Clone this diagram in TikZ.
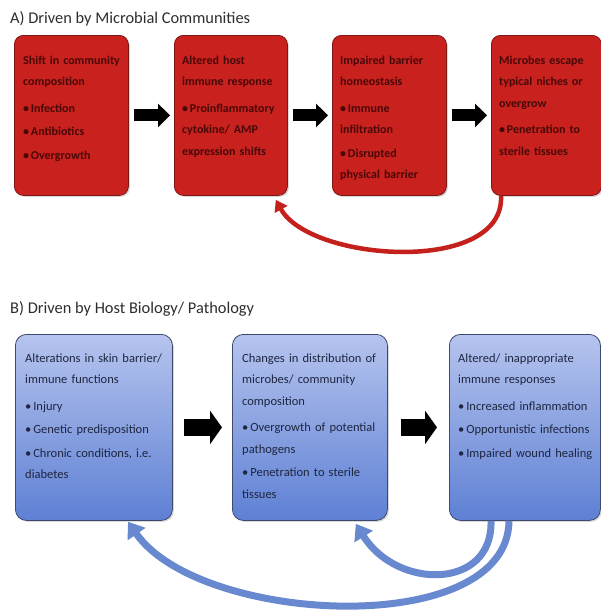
\documentclass[tikz,border=0pt]{standalone}
\usepackage{fontspec}
\setmainfont{Carlito}
\usetikzlibrary{positioning,calc,shadows,arrows.meta}

\definecolor{boxred}{RGB}{201,33,30}
\definecolor{edgered}{RGB}{128,22,20}
\definecolor{txtred}{RGB}{72,8,8}
\definecolor{bluetop}{RGB}{182,196,238}
\definecolor{bluebot}{RGB}{94,128,212}
\definecolor{edgeblue}{RGB}{62,74,108}
\definecolor{txtblue}{RGB}{30,38,64}
\definecolor{loopred}{RGB}{196,32,28}
\definecolor{loopblue}{RGB}{104,136,208}
\definecolor{titlegray}{RGB}{45,45,45}

% heading line(s) and bullets inside the boxes
\newcommand{\boxhead}[1]{#1\par\vspace{3pt}}
\newcommand{\bitem}[1]{\par\vspace{2pt}\hangindent=0.65em\hangafter=1\noindent\makebox[0.65em][l]{\textbullet}#1}

\tikzset{
  redbox/.style={draw=edgered, line width=0.8pt, fill=boxred, rounded corners=9pt,
    drop shadow={opacity=0.3, shadow xshift=1.5pt, shadow yshift=-1.5pt},
    minimum width=114pt, minimum height=160pt, anchor=north west, inner sep=0pt},
  bluebox/.style={draw=edgeblue, line width=0.8pt, top color=bluetop, bottom color=bluebot,
    rounded corners=11pt, drop shadow={opacity=0.3, shadow xshift=1.5pt, shadow yshift=-1.5pt},
    minimum height=186pt, anchor=north west, inner sep=0pt},
  redtext/.style={anchor=base west, inner sep=0pt, text width=110pt, align=left,
    font=\bfseries\fontsize{12}{21.5}\selectfont, text=txtred},
  bluetext/.style={anchor=base west, inner sep=0pt, text width=150pt, align=left,
    font=\fontsize{12.5}{21.5}\selectfont, text=txtblue},
  title/.style={anchor=base west, inner sep=0pt, font=\fontsize{16.4}{19}\selectfont, text=titlegray},
  redarr/.style={black, line width=12pt, -{Triangle[length=12pt,width=23pt]}},
  bluearr/.style={black, line width=17pt, -{Triangle[length=12pt,width=33pt]}},
  redloop/.style={loopred, line width=4.5pt, -{Triangle[length=11pt,width=14pt]}},
  blueloop/.style={loopblue, line width=7pt, -{Triangle[length=15pt,width=21pt]}},
}

\begin{document}
\begin{tikzpicture}[x=1pt,y=1pt,yscale=-1,xscale=1]
\useasboundingbox (0,0) rectangle (601,611);

% Title A
\node[title] (ta) at (10,23) {A) Driven by Microbial Communities};

%Shape: red boxes
\node[redbox, minimum width=114pt] (r1) at (14,35) {};
\node[redbox, minimum width=113pt] (r2) at (174,35) {};
\node[redbox, minimum width=114pt] (r3) at (332,35) {};
\node[redbox, minimum width=110pt] (r4) at (491,35) {};

% Text Node
\node[redtext] (r1t) at ($(r1.north west)+(9,29)$) {\boxhead{Shift in community\\composition}\bitem{Infection}\bitem{Antibiotics}\bitem{Overgrowth}};
\node[redtext] (r2t) at ($(r2.north west)+(8,29)$) {\boxhead{Altered host\\immune response}\bitem{Proinflammatory\\cytokine/ AMP\\expression shifts}};
\node[redtext] (r3t) at ($(r3.north west)+(8,29)$) {\boxhead{Impaired barrier\\homeostasis}\bitem{Immune\\infiltration}\bitem{Disrupted\\physical barrier}};
\node[redtext] (r4t) at ($(r4.north west)+(8,29)$) {\boxhead{Microbes escape\\typical niches or\\overgrow}\bitem{Penetration to\\sterile tissues}};

%Block arrows A
\draw[redarr, shorten <=5pt, shorten >=4pt] (r1.east) -- (r2.west);
\draw[redarr, shorten <=5pt, shorten >=4pt] (r2.east) -- (r3.west);
\draw[redarr, shorten <=5pt, shorten >=4pt] (r3.east) -- (r4.west);

%Curve Lines: feedback A
\draw[redloop] ($(r4.south west)+(10,0)$) .. controls (505,275) and (310,262) .. ($(r2.south east)+(-12,4)$);

% Title B
\node[title] (tb) at (10,313) {B) Driven by Host Biology/ Pathology};

%Shape: blue boxes
\node[bluebox, minimum width=157pt] (b1) at (15,334) {};
\node[bluebox, minimum width=155pt] (b2) at (232,334) {};
\node[bluebox, minimum width=151pt] (b3) at (449,334) {};

% Text Node
\node[bluetext] (b1t) at ($(b1.north west)+(10,28)$) {\boxhead{Alterations in skin barrier/\\immune functions}\bitem{Injury}\bitem{Genetic predisposition}\bitem{Chronic conditions, i.e.\\diabetes}};
\node[bluetext] (b2t) at ($(b2.north west)+(10,28)$) {\boxhead{Changes in distribution of\\microbes/ community\\composition}\bitem{Overgrowth of potential\\pathogens}\bitem{Penetration to sterile\\tissues}};
\node[bluetext] (b3t) at ($(b3.north west)+(9,28)$) {\boxhead{Altered/ inappropriate\\immune responses}\bitem{Increased inflammation}\bitem{Opportunistic infections}\bitem{Impaired wound healing}};

%Block arrows B
\draw[bluearr, shorten <=11pt, shorten >=10pt] (b1.east) -- (b2.west);
\draw[bluearr, shorten <=13pt, shorten >=12pt] (b2.east) -- (b3.west);

%Curve Lines: feedback B
\draw[blueloop] ($(b3.south west)+(42,0)$) .. controls (493,590) and (397,590) .. ($(b2.south east)+(-32,3)$);
\draw[blueloop] ($(b3.south west)+(60,0)$) .. controls (508,640) and (200,625) .. ($(b1.south west)+(113,1)$);

\end{tikzpicture}
\end{document}
